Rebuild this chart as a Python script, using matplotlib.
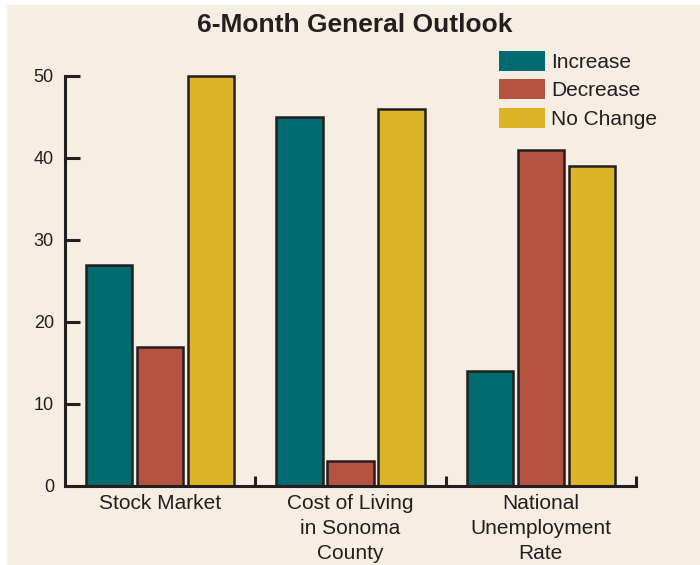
import matplotlib.pyplot as plt
import matplotlib.patches as mpatches
import numpy as np

plt.rcParams['font.family'] = ['Liberation Sans', 'DejaVu Sans']

categories = ["Stock Market", "Cost of Living\nin Sonoma\nCounty", "National\nUnemployment\nRate"]
series_names = ["Increase", "Decrease", "No Change"]
increase = [27, 45, 14]
decrease = [17, 3, 41]
no_change = [50, 46, 39]

colors = ["#006B6E", "#B55240", "#DCB428"]
bg = "#F6EEE2"
ink = "#231F20"

fig = plt.figure(figsize=(7, 5.65), dpi=100, facecolor="white")
fig.patches.append(mpatches.Rectangle((7 / 700, 0), 1, 1 - 5 / 565, transform=fig.transFigure,
                                      facecolor=bg, edgecolor="none", zorder=-10))
ax = fig.add_axes([65 / 700, 1 - 486 / 565, (636 - 65) / 700, (486 - 76) / 565])
ax.set_facecolor("none")

x = np.arange(len(categories))
offset = 0.268
width = 0.245
for i, (vals, name) in enumerate(zip([increase, decrease, no_change], series_names)):
    ax.bar(x + (i - 1) * offset, vals, width, color=colors[i], edgecolor=ink,
           linewidth=1.8, label=name, clip_on=False, zorder=2)

ax.set_xlim(-0.5, 2.5)
ax.set_ylim(0, 50)
for s in ["top", "right"]:
    ax.spines[s].set_visible(False)
for s in ["left", "bottom"]:
    ax.spines[s].set_linewidth(2.2)
    ax.spines[s].set_color(ink)
    ax.spines[s].set_zorder(3)

ax.set_yticks([0, 10, 20, 30, 40, 50])
ax.tick_params(axis="y", direction="in", length=11, width=2.2, color=ink,
               labelsize=13, labelcolor=ink, pad=8)
ax.set_xticks(x)
ax.set_xticklabels(categories, fontsize=15, color=ink, linespacing=1.4)
ax.tick_params(axis="x", length=0, pad=6)
ax.set_xticks([0.5, 1.5, 2.5], minor=True)
ax.tick_params(axis="x", which="minor", direction="in", length=7, width=2.2, color=ink)

fig.text(355 / 700, 1 - 25 / 565, "6-Month General Outlook", ha="center", va="center",
         fontsize=19, fontweight="bold", color=ink)

handles = [mpatches.Patch(facecolor=c, edgecolor="none", label=n) for c, n in zip(colors, series_names)]
leg = ax.legend(handles=handles, loc="upper left", bbox_to_anchor=(499 / 700, 1 - 51 / 565),
                bbox_transform=fig.transFigure, frameon=False, fontsize=15,
                handlelength=2.2, handleheight=1.1, handletextpad=0.3,
                labelspacing=0.35, borderpad=0, borderaxespad=0)
for t in leg.get_texts():
    t.set_color(ink)

fig.savefig("out.png", dpi=100, facecolor="white")
